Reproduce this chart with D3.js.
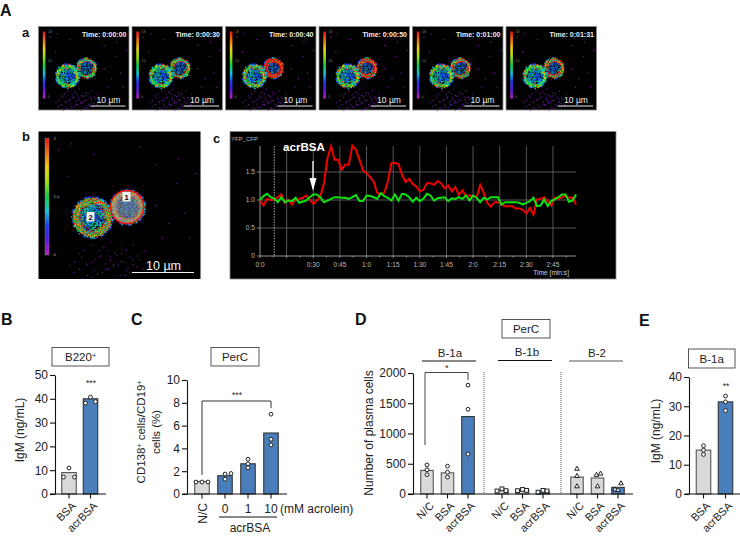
<!DOCTYPE html>
<html><head><meta charset="utf-8">
<script src="https://cdn.jsdelivr.net/npm/d3@7"></script>
<style>
html,body{margin:0;padding:0;background:#fff}
svg{display:block}
text{font-family:"Liberation Sans",Arial,sans-serif}
</style></head><body><svg id="c" width="740" height="536"></svg>
<script>
// ---------- data ----------
const tileTimes = ["Time: 0:00:00","Time: 0:00:30","Time: 0:00:40","Time: 0:00:50","Time: 0:01:00","Time: 0:01:31"];
const traceTicks = ["0:0","0:30","0:45","1:0","1:15","1:30","1:45","2:0","2:15","2:30","2:45"];
const traceTickSeconds = [0,30,45,60,75,90,105,120,135,150,165];
const traceStepSeconds = 2;
const redTrace = [1.00,0.90,1.02,1.00,1.01,1.05,1.10,0.95,1.00,0.92,1.01,1.02,1.04,1.08,1.01,0.93,0.99,1.07,1.30,1.75,1.96,1.72,1.72,1.54,1.63,1.63,1.97,1.90,1.72,1.53,1.48,1.41,1.33,1.13,1.10,1.13,1.33,1.66,1.66,1.64,1.45,1.32,1.38,1.29,1.24,1.16,1.18,1.30,1.30,1.27,1.34,1.30,1.21,1.26,1.15,1.23,1.09,1.17,1.07,1.08,1.07,1.05,1.27,1.13,0.95,0.88,0.96,0.96,0.92,0.89,0.89,0.89,0.85,0.85,0.83,0.76,0.86,0.74,1.01,1.02,1.05,0.98,0.90,1.04,1.02,1.05,1.08,1.04,1.04,0.92];
const greenTrace = [1.00,1.07,1.11,1.05,1.03,0.96,1.05,0.96,0.99,0.98,1.04,0.95,0.97,0.99,1.05,1.10,1.10,1.05,0.96,0.99,1.02,1.05,1.05,1.04,1.04,1.02,1.05,1.09,0.98,0.98,1.08,1.07,1.05,1.02,1.12,1.07,1.04,0.99,1.10,0.99,1.11,1.10,1.05,0.97,1.04,0.98,1.02,1.11,1.08,0.99,1.03,1.04,1.05,0.98,1.03,1.02,1.05,1.02,1.08,0.99,1.08,1.04,0.96,1.04,1.01,1.05,1.05,1.05,0.92,0.96,0.96,0.96,0.96,0.95,0.92,0.95,0.98,1.04,0.89,0.90,1.01,0.89,0.98,1.01,1.05,1.10,1.10,0.97,0.99,1.10];

const bCats = ["BSA","acrBSA"];
const bMeans = [9,40];
const bPoints = [[10.9,7.1,7.1],[38.2,40.7,38.8]];

const cCats = ["N/C","0","1","10"];
const cMeans = [1.1,1.6,2.65,5.35];
const cPoints = [[1.05,1.05,1.05],[1.3,1.75,1.8],[2.3,2.65,3.05],[4.3,4.8,7.0]];

const dCats = ["N/C","BSA","acrBSA"];
const d1aMeans = [390,350,1280];
const d1aPoints = [[480,400,320],[460,360,280],[1800,1400,660]];
const d1bMeans = [60,65,45];
const d1bPoints = [[50,85,55],[55,75,60],[30,60,50]];
const d2Means = [280,265,110];
const d2Points = [[420,300,130],[130,320,340],[180,80,70]];

const eCats = ["BSA","acrBSA"];
const eMeans = [15,31.5];
const ePoints = [[16.5,15,13.5],[33.5,31.5,28.5]];

// ---------- layout (pixels) ----------
const tileLeft = [38.5,132,225.5,319,412.5,506];
const tileRedShare = [[0.05,0.18],[0.08,0.2],[0.14,0.62],[0.12,0.5],[0.10,0.3],[0.05,0.34]];
const speckles = [[0.28,0.80],[0.33,0.88],[0.38,0.84],[0.42,0.93],[0.47,0.82],[0.52,0.88],[0.56,0.95],[0.61,0.84],[0.36,0.96],[0.44,0.87],[0.50,0.97],[0.25,0.93],[0.58,0.90],[0.40,0.78],[0.30,0.97],[0.54,0.80],[0.46,0.91],[0.64,0.93],[0.22,0.88],[0.12,0.12],[0.20,0.08],[0.34,0.15],[0.72,0.22],[0.85,0.35],[0.62,0.10],[0.90,0.55],[0.80,0.62],[0.93,0.72],[0.72,0.50],[0.18,0.30],[0.86,0.18],[0.97,0.28],[0.76,0.72]];
const offB = [[0,-5.5,5.5],[-5,0,5]];
const offC = [[-6,0,6],[0,0,6],[0,0,0],[0,0,0]];
const off1b = [[-5,0,4],[-5,0,4],[-5,0,4]];
const off2 = [[0,0,0],[0,-1,3],[3,-3,0]];

const svg = d3.select("#c");
const defs = svg.append("defs");
defs.append("filter").attr("id","soft").attr("x","-5%").attr("y","-5%").attr("width","110%").attr("height","110%")
  .append("feGaussianBlur").attr("stdDeviation",0.6);
defs.append("filter").attr("id","softline").attr("x","-5%").attr("y","-5%").attr("width","110%").attr("height","110%")
  .append("feGaussianBlur").attr("stdDeviation",0.3);
const rainbowStops = ["#c020c0","#5a18d8","#1a3cf0","#10c8d8","#10d040","#a0e010","#f0d010","#f07010","#e81010"];
const grad = defs.append("linearGradient").attr("id","rainbow").attr("x1",0).attr("x2",0).attr("y1",1).attr("y2",0);
rainbowStops.forEach((c,i)=>grad.append("stop").attr("offset",i/(rainbowStops.length-1)).attr("stop-color",c));

function label(g,x,y,t,o={}){
  const e=g.append("text").attr("x",x).attr("y",y).text(t)
    .attr("font-size",o.size||12).attr("fill",o.fill||"#222")
    .attr("text-anchor",o.anchor||"middle").attr("font-weight",o.weight||"normal");
  if(o.rotate!==undefined) e.attr("transform",`rotate(${o.rotate} ${x} ${y})`);
  return e;
}

// Texture of a fluorescence image: lattice of pixels coloured by radial band
function frac(v){return v-Math.floor(v);}
function cellTexture(g,cx,cy,r,red,kind,px){
  const n=Math.round(r*r*3.0);
  const outer=["#1a3cf0","#2050f0","#10b0d8","#000010","#000010"];
  const rim=["#10d040","#10d040","#10c8a0","#a0e010","#10c8d8","#e0e010","#10d040"];
  const inner= kind==="left" ? ["#10c8d8","#1a3cf0","#10d040","#1060e0","#10a080","#000010"]
                             : ["#08305a","#1a3cf0","#0c6a70","#000010","#10a080","#1060e0","#000010"];
  const rs=g.append("g");
  d3.range(n).forEach(i=>{
    const a=i*2.39996, rn=Math.sqrt((i+0.5)/n), h=frac(i*i*0.381966+i*0.137), h2=frac(i*0.7548);
    const band = rn>0.95?outer : rn>0.68?rim : inner;
    const reddish = rn>0.55 && rn<=0.96;
    let col = band[Math.floor(h*band.length)];
    if(reddish && h2<red*1.4) col = h2<red*0.3?"#f07010":"#e81010";
    rs.append("rect").attr("x",cx+r*1.04*rn*Math.cos(a)-px/2).attr("y",cy+r*1.04*rn*Math.sin(a)-px/2)
      .attr("width",px).attr("height",px).attr("fill",col);
  });
}
function micro(x,y,w,h,red,scale,c1,c2){
  const g=svg.append("g").attr("transform",`translate(${x},${y})`);
  g.append("rect").attr("width",w).attr("height",h).attr("fill","#000");
  const inner=g.append("g").attr("filter","url(#soft)");
  speckles.forEach(p=>inner.append("rect").attr("x",p[0]*w).attr("y",p[1]*h).attr("width",1.2).attr("height",1.2).attr("fill","#7a1aa0"));
  speckles.slice(0,19).forEach(p=>{
    inner.append("rect").attr("x",p[0]*w+4*scale).attr("y",p[1]*h-3*scale).attr("width",1.2).attr("height",1.2).attr("fill","#6a148f");
    inner.append("rect").attr("x",p[0]*w-3*scale).attr("y",p[1]*h+2*scale).attr("width",1.2).attr("height",1.2).attr("fill","#50189a");
  });
  cellTexture(inner,c2[0]*w,c2[1]*h,10.4*scale,red[1],"right",1.4);
  cellTexture(inner,c1[0]*w,c1[1]*h,12*scale,red[0],"left",1.4);
  return g;
}

// ---------- Panel A a: tiles ----------
tileLeft.forEach((x,i)=>{
  const g=micro(x,26.5,90.5,83.5,tileRedShare[i],1,[0.32,0.595],[0.53,0.5]);
  g.append("rect").attr("width",90.5).attr("height",83.5).attr("fill","none").attr("stroke","#8a8a8a").attr("stroke-width",0.8);
  g.append("rect").attr("x",4.3).attr("y",5).attr("width",2.6).attr("height",67).attr("fill","url(#rainbow)");
  [["1.8",6.5],["1.0",35],["0",71.5]].forEach(t=>label(g,9.5,t[1],t[0],{size:2.8,anchor:"start",fill:"#999"}));
  label(g,88,10.5,tileTimes[i],{size:7,anchor:"end",fill:"#eee",weight:"bold"});
  g.append("line").attr("x1",52).attr("x2",87).attr("y1",79.5).attr("y2",79.5).attr("stroke","#eee").attr("stroke-width",1);
  label(g,70,76.5,"10 µm",{size:8.5,fill:"#eee"});
});

// ---------- Panel A b ----------
{
  const g=micro(38.5,131.5,162,147.5,[0.26,0.3],1.68,[0.333,0.583],[0.55,0.515]);
  g.append("rect").attr("x",6.5).attr("y",6.5).attr("width",4).attr("height",117).attr("fill","url(#rainbow)").attr("stroke","#888").attr("stroke-width",0.4);
  [["2",8],["1.0",66],["0",124.5]].forEach(t=>label(g,15,t[1],t[0],{size:4.2,anchor:"start",fill:"#bbb"}));
  g.append("circle").attr("cx",88.5).attr("cy",75.5).attr("r",16.5).attr("fill","#b0b0b0").attr("fill-opacity",0.45).attr("stroke","#f01010").attr("stroke-width",1.3);
  [[88,65,"1"],[52,85,"2"]].forEach(t=>{
    g.append("rect").attr("x",t[0]-4).attr("y",t[1]-4.5).attr("width",8).attr("height",9.5).attr("fill","#f0f0f0");
    label(g,t[0],t[1]+3,t[2],{size:7.5,fill:"#000",weight:"bold"});
  });
  g.append("line").attr("x1",93.5).attr("x2",155.5).attr("y1",141).attr("y2",141).attr("stroke","#f4f4f4").attr("stroke-width",1.2);
  label(g,125,138,"10 µm",{size:12.5,fill:"#f4f4f4"});
}

// ---------- Panel A c ----------
{
  const x=d3.scaleLinear().domain([0,165]).range([260,553]);
  const y=d3.scaleLinear().domain([0,1.5]).range([256,172]);
  const g=svg.append("g");
  g.append("rect").attr("x",230).attr("y",131.5).attr("width",386).attr("height",147.5).attr("fill","#000").attr("stroke","#888").attr("stroke-width",0.8);
  const gridC="#6c6c6c";
  [0.5,1,1.5].forEach(v=>g.append("line").attr("x1",x(0)).attr("x2",576).attr("y1",y(v)).attr("y2",y(v)).attr("stroke",gridC).attr("stroke-width",0.8));
  [15,30,45,60,75,90,105,120,135,150,165].forEach(t=>g.append("line").attr("x1",x(t)).attr("x2",x(t)).attr("y1",146).attr("y2",256).attr("stroke",gridC).attr("stroke-width",0.8));
  g.append("line").attr("x1",260).attr("x2",260).attr("y1",146).attr("y2",256).attr("stroke","#bbb").attr("stroke-width",0.8);
  g.append("line").attr("x1",x(8)).attr("x2",x(8)).attr("y1",146).attr("y2",256).attr("stroke","#ddd").attr("stroke-width",0.8).attr("stroke-dasharray","1.5 1.2");
  g.append("line").attr("x1",260).attr("x2",576).attr("y1",256).attr("y2",256).attr("stroke","#bbb").attr("stroke-width",0.8);
  d3.range(0,180,7.5).forEach(t=>g.append("line").attr("x1",x(t)).attr("x2",x(t)).attr("y1",256).attr("y2",t%15===0?258:257.5).attr("stroke","#bbb").attr("stroke-width",0.7));
  [0,0.5,1,1.5].forEach(v=>{
    g.append("line").attr("x1",257).attr("x2",260).attr("y1",y(v)).attr("y2",y(v)).attr("stroke","#bbb").attr("stroke-width",0.7);
    label(g,255,y(v)+2.4,v===0?"0":v.toFixed(1),{size:6.6,anchor:"end",fill:"#bbb"});
  });
  traceTicks.forEach((t,i)=>label(g,x(traceTickSeconds[i]),267,t,{size:6.6,fill:"#bbb"}));
  label(g,231,141,"YFP_CFP",{size:6,anchor:"start",fill:"#bbb"});
  label(g,569,275,"Time [min:s]",{size:6.6,anchor:"end",fill:"#c8d0e0"});
  const line=d3.line().x((d,i)=>x(i*traceStepSeconds)).y(d=>y(d));
  const lg=g.append("g").attr("filter","url(#softline)");
  lg.append("path").attr("d",line(redTrace)).attr("fill","none").attr("stroke","#f00000").attr("stroke-width",2);
  lg.append("path").attr("d",line(greenTrace)).attr("fill","none").attr("stroke","#10e010").attr("stroke-width",2);
  label(g,304,151,"acrBSA",{size:11.6,fill:"#fff",weight:"bold"});
  g.append("line").attr("x1",313).attr("x2",313).attr("y1",161).attr("y2",182).attr("stroke","#fff").attr("stroke-width",1.3);
  g.append("path").attr("d","M309.5,178 L316.5,178 L313,191 Z").attr("fill","#fff");
}

// ---------- Bar charts ----------
const GREY="#d9d9d9", BLUE="#4a7ebb";
function bars(g,cats,means,points,o){
  const x=d3.scalePoint().domain(cats).range(o.xr);
  cats.forEach((c,i)=>{
    const col=i<(o.grey||0)?GREY:BLUE;
    g.append("rect").attr("x",x(c)-o.bw/2).attr("y",o.y(means[i])).attr("width",o.bw).attr("height",o.y(0)-o.y(means[i]))
      .attr("fill",col).attr("stroke",i<(o.grey||0)?"#555":"#333").attr("stroke-width",1.1);
    points[i].forEach((v,j)=>{
      const px=x(c)+(o.off?o.off[i][j]:0), py=o.y(v);
      const p=g.append("g").attr("transform",`translate(${px},${py})`);
      if(o.shape==="square") p.append("rect").attr("x",-1.9).attr("y",-1.9).attr("width",3.8).attr("height",3.8).attr("fill","#fff").attr("stroke","#222").attr("stroke-width",1);
      else if(o.shape==="tri") p.append("path").attr("d","M0,-2.4 L2.3,1.7 L-2.3,1.7 Z").attr("fill","#fff").attr("stroke","#222").attr("stroke-width",1);
      else p.append("circle").attr("r",1.9).attr("fill","#fff").attr("stroke","#222").attr("stroke-width",1);
    });
    if(o.rotated!==false){
      g.append("line").attr("x1",x(c)).attr("x2",x(c)).attr("y1",o.y(0)).attr("y2",o.y(0)+4.5).attr("stroke","#111").attr("stroke-width",1.1);
      label(g,x(c)+7.5,o.y(0)+12.5,c,{size:11,anchor:"end",rotate:-45});
    }
  });
  return x;
}
function yAxis(g,scale,xp,ticks){
  const a=g.append("g").attr("transform",`translate(${xp},0)`).call(d3.axisLeft(scale).tickValues(ticks).tickFormat(d3.format("d")).tickSize(5).tickSizeOuter(0).tickPadding(2));
  a.selectAll("path,line").attr("stroke","#111").attr("stroke-width",1.1);
  a.selectAll("text").attr("font-size",12).attr("fill","#222").attr("font-family",'"Liberation Sans",Arial,sans-serif');
}
function baseline(g,y,x1,x2){g.append("line").attr("x1",x1).attr("x2",x2).attr("y1",y).attr("y2",y).attr("stroke","#111").attr("stroke-width",1.1);}
function box(g,x1,x2,y1,y2,t,sup){
  g.append("rect").attr("x",x1).attr("y",y1).attr("width",x2-x1).attr("height",y2-y1).attr("fill","#fff").attr("stroke","#444").attr("stroke-width",0.9);
  const e=label(g,(x1+x2)/2,(y1+y2)/2+4,t,{size:11.5});
  if(sup) e.append("tspan").attr("dy",-3).attr("font-size",7).text(sup);
}
function stars(g,x,y,t){label(g,x,y,t,{size:8.5});}
const chart=svg.append("g");

// B
{
  const y=d3.scaleLinear().domain([0,50]).range([494,375]);
  bars(chart,bCats,bMeans,bPoints,{xr:[69,90.5],bw:14.5,y,grey:1,off:offB});
  yAxis(chart,y,55,[0,10,20,30,40,50]); baseline(chart,494,50,106);
  box(chart,52,109,347.5,366,"B220","+");
  label(chart,24,430,"IgM (ng/mL)",{size:12,rotate:-90});
  stars(chart,91,386,"***");
}
// C
{
  const y=d3.scaleLinear().domain([0,10]).range([494,380]);
  bars(chart,cCats,cMeans,cPoints,{xr:[202,271],bw:14.5,y,grey:1,off:offC,rotated:false});
  const x=d3.scalePoint().domain(cCats).range([202,271]);
  cCats.forEach(c=>chart.append("line").attr("x1",x(c)).attr("x2",x(c)).attr("y1",494).attr("y2",498.5).attr("stroke","#111").attr("stroke-width",1.1));
  label(chart,x("N/C")+4.5,503,"N/C",{size:12,anchor:"end",rotate:-90});
  ["0","1","10"].forEach(c=>label(chart,x(c),513,c,{size:12}));
  label(chart,280,513,"(mM acrolein)",{size:12,anchor:"start"});
  chart.append("line").attr("x1",219).attr("x2",277).attr("y1",517).attr("y2",517).attr("stroke","#111").attr("stroke-width",1);
  label(chart,250,532,"acrBSA",{size:12});
  yAxis(chart,y,187,[0,2,4,6,8,10]); baseline(chart,494,182,287);
  box(chart,211,259,347.5,366,"PerC");
  const t=label(chart,145,432,"CD138",{size:11.5,rotate:-90});
  t.append("tspan").attr("dy",-3).attr("font-size",7).text("+");
  t.append("tspan").attr("dy",3).text(" cells/CD19");
  t.append("tspan").attr("dy",-3).attr("font-size",7).text("+");
  label(chart,160,432,"cells (%)",{size:11.5,rotate:-90});
  chart.append("path").attr("d","M202,475 V401 H271 V408").attr("fill","none").attr("stroke","#333").attr("stroke-width",1);
  stars(chart,237,398,"***");
}
// D
{
  const y=d3.scaleLinear().domain([0,2000]).range([494,373]);
  bars(chart,dCats,d1aMeans,d1aPoints,{xr:[427,468],bw:12.5,y,grey:2});
  bars(chart,dCats,d1bMeans,d1bPoints,{xr:[502,543],bw:12.5,y,grey:2,shape:"square",off:off1b});
  bars(chart,dCats,d2Means,d2Points,{xr:[577,618],bw:12.5,y,grey:2,shape:"tri",off:off2});
  yAxis(chart,y,413,[0,500,1000,1500,2000]); baseline(chart,494,408,633);
  [484,561].forEach(xp=>chart.append("line").attr("x1",xp).attr("x2",xp).attr("y1",372).attr("y2",494).attr("stroke","#444").attr("stroke-width",0.9).attr("stroke-dasharray","1 1"));
  box(chart,502,550,319.5,338,"PerC");
  [["B-1a",450,422,476,361,357],["B-1b",527,498,552,360.5,355.5],["B-2",597,569,623,361,357]].forEach(h=>{
    label(chart,h[1],h[5],h[0],{size:11.5});
    chart.append("line").attr("x1",h[2]).attr("x2",h[3]).attr("y1",h[4]).attr("y2",h[4]).attr("stroke",h[0]==="B-2"?"#555":"#111").attr("stroke-width",1);
  });
  label(chart,373,433,"Number of plasma cells",{size:12,rotate:-90});
  chart.append("path").attr("d","M425,445 V372.5 H468 V380").attr("fill","none").attr("stroke","#444").attr("stroke-width",1);
  stars(chart,447,371,"*");
}
// E
{
  const y=d3.scaleLinear().domain([0,40]).range([494,377]);
  bars(chart,eCats,eMeans,ePoints,{xr:[703.5,725.5],bw:14.5,y,grey:1});
  yAxis(chart,y,689,[0,10,20,30,40]); baseline(chart,494,685,740);
  box(chart,688.5,735,349,368,"B-1a");
  label(chart,660,431,"IgM (ng/mL)",{size:12,rotate:-90});
  stars(chart,726,389,"**");
}

// Panel letters
[["A",0,16,16],["B",1,325,16],["C",131,325,16],["D",355,325,16],["E",639,326,16],["a",22,37,13],["b",22,141,13],["c",213,143,13]]
  .forEach(p=>label(svg,p[1],p[2],p[0],{size:p[3],weight:"bold",anchor:"start",fill:"#111"}));
</script></body></html>
